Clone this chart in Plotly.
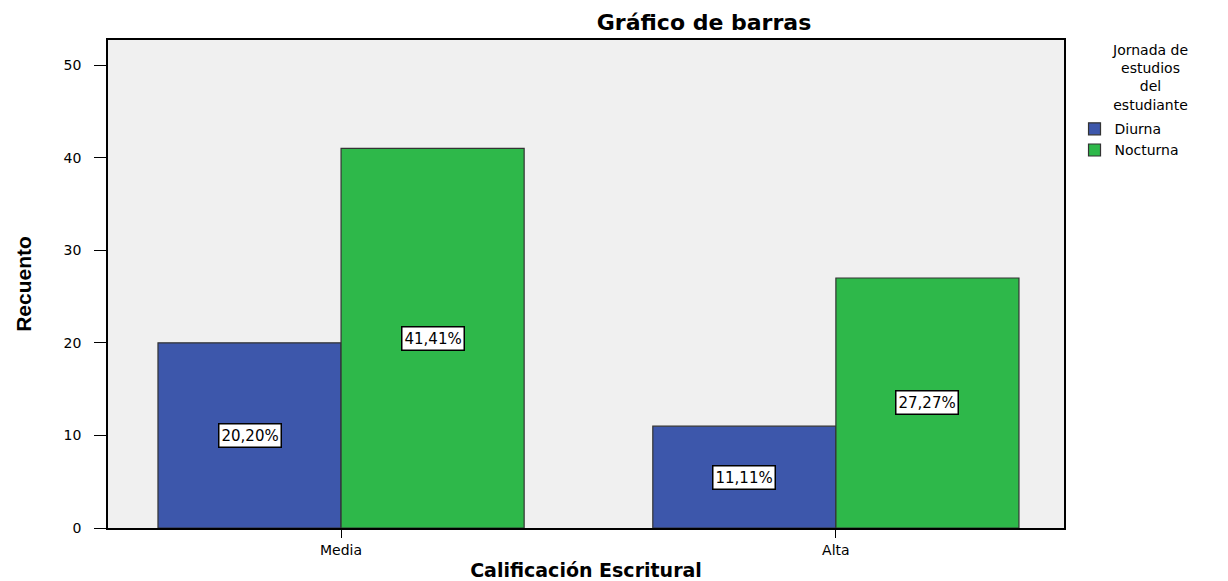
import plotly.graph_objects as go

categories = ["Media", "Alta"]
series_names = ["Diurna", "Nocturna"]
diurna = [20, 11]
nocturna = [41, 27]
colors = ["#3D57AB", "#2EB84A"]
legend_title = "Jornada de<br>estudios<br>del<br>estudiante"

total = sum(diurna) + sum(nocturna)
FONT = "DejaVu Sans"

fig = go.Figure()
for name, vals, col in zip(series_names, [diurna, nocturna], colors):
    fig.add_trace(go.Bar(
        name=name, x=categories, y=vals,
        marker=dict(color=col, line=dict(color="#333333", width=1.2)),
    ))

# percentage boxes in the middle of each bar
offsets = [-0.185, 0.185]
for off, vals in zip(offsets, [diurna, nocturna]):
    for i, v in enumerate(vals):
        pct = f"{v / total * 100:.2f}%".replace(".", ",")
        fig.add_annotation(
            x=i + off, y=v / 2, xref="x", yref="y", text=pct, showarrow=False,
            bgcolor="white", bordercolor="black", borderwidth=1.5, borderpad=2,
            font=dict(family=FONT, size=15, color="black"),
        )

# legend title as a centred annotation (plotly keeps multiline legend titles left aligned)
fig.add_annotation(
    x=1.09, y=1.0, xref="paper", yref="paper", xanchor="center", yanchor="top",
    text=legend_title, showarrow=False, align="center",
    font=dict(family=FONT, size=14, color="black"),
)

# page body adds ~8px offset, margins compensate for it
fig.update_layout(
    width=1228, height=581,
    margin=dict(l=100, r=172, t=32, b=61),
    paper_bgcolor="white", plot_bgcolor="#F0F0F0",
    bargap=0.26, bargroupgap=0,
    font=dict(family=FONT, size=14, color="black"),
    title=dict(text="<b>Gráfico de barras</b>", x=0.5668, xanchor="center",
               y=0.976, yanchor="middle", font=dict(size=22)),
    legend=dict(
        x=1.011, xanchor="left", y=0.85, yanchor="top",
        font=dict(size=14), itemwidth=30, tracegroupgap=0,
        bgcolor="rgba(0,0,0,0)",
    ),
    xaxis=dict(
        type="category", range=[-0.471, 1.461], automargin=False,
        showline=True, linecolor="black", linewidth=1.5, mirror=True,
        ticks="outside", ticklen=8, tickcolor="black",
        showgrid=False, tickfont=dict(size=14),
        title=dict(text="<b>Calificación Escritural</b>", font=dict(size=19), standoff=7),
    ),
    yaxis=dict(
        range=[0, 52.7], tickvals=[0, 10, 20, 30, 40, 50], automargin=False,
        showline=True, linecolor="black", linewidth=1.5, mirror=True,
        ticks="outside", ticklen=12, tickcolor="black", ticklabelstandoff=10,
        showgrid=False, zeroline=False, tickfont=dict(size=14),
        title=dict(text="<b>Recuento</b>",
                   font=dict(family="Liberation Sans Narrow, Liberation Sans", size=21),
                   standoff=26),
    ),
)

fig.write_html("out.html")
